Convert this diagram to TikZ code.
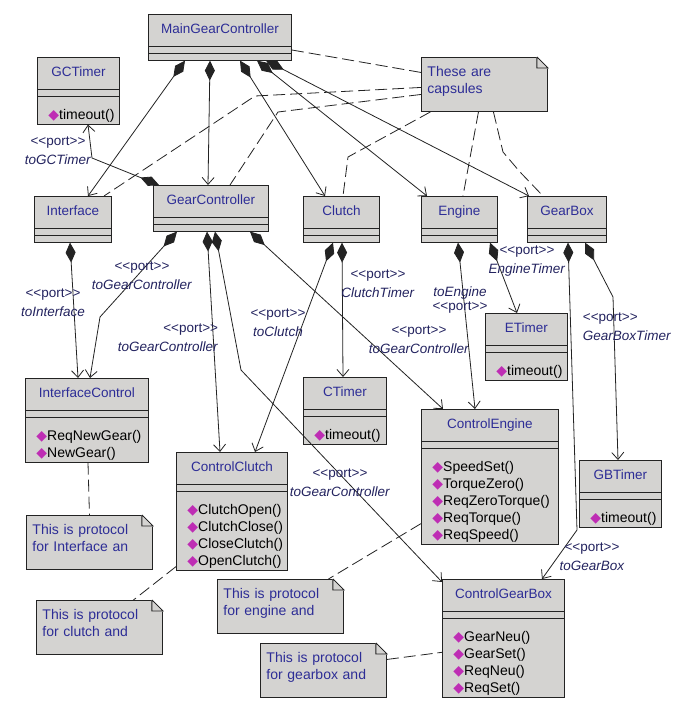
\documentclass[tikz,border=0pt]{standalone}
\usepackage{fontspec}
\setmainfont{Liberation Sans}
\newfontfamily\symfont{DejaVu Sans}
\usetikzlibrary{shapes.multipart,arrows.meta,calc}

\definecolor{boxgray}{RGB}{212,211,209}
\definecolor{textblue}{RGB}{45,45,150}
\definecolor{labelblue}{RGB}{35,35,95}
\definecolor{opcol}{RGB}{190,45,180}
\definecolor{linecol}{RGB}{35,35,35}

\newcommand{\hdr}[1]{\rule[-12pt]{0pt}{31pt}#1}
\newcommand{\meth}[1]{{\symfont\color{opcol}◆}#1}
\newcommand{\ops}[1]{\vbox{\kern11pt\hbox{\fontsize{14}{17}\selectfont
    \begin{tabular}{@{\hspace{7pt}}l@{}}#1\end{tabular}}\kern-1pt}}
\newcommand{\port}{<\kern0pt<port>\kern0pt>}

\begin{document}
\begin{tikzpicture}[x=1pt, y=-1pt,
    cls/.style={rectangle split, rectangle split parts=3, draw=linecol, line width=0.9pt,
        fill=boxgray, text=textblue, font=\fontsize{13.5}{17}\selectfont,
        inner xsep=4pt, inner ysep=0pt, anchor=north west,
        rectangle split part align={center,left,left},
        rectangle split empty part height=6pt, rectangle split empty part depth=0pt},
    note/.style={rectangle, draw=linecol, line width=0.9pt, fill=boxgray, text=textblue,
        font=\fontsize{14}{17}\selectfont, text width=114pt, inner xsep=6pt,
        minimum height=54pt, align=left, anchor=north west,
        execute at end node={\rule[-10pt]{0pt}{0pt}},
        append after command={
            ([xshift=-11pt]\tikzlastnode.north east)
            edge[draw=white, fill=white, line width=1pt, to path={-| (\tikztotarget) -- cycle}]
            ([yshift=-11pt]\tikzlastnode.north east)
            ([xshift=-11pt]\tikzlastnode.north east)
            edge[draw=linecol, line width=0.9pt, to path={-- (\tikztotarget) -| (\tikztostart)}]
            ([yshift=-11pt]\tikzlastnode.north east)}},
    port/.style={text=labelblue, font=\fontsize{13.5}{19}\selectfont, align=center, inner sep=0pt},
    comp/.style={{Diamond[length=20pt,width=10pt]}-{Straight Barb[length=7pt,width=12pt]}, draw=linecol, line width=0.8pt},
    dashln/.style={draw=linecol, line width=0.8pt, dash pattern=on 12pt off 5pt}
]
\path[use as bounding box, fill=white] (0,0) rectangle (673,710);

% Capsules
\node[cls, minimum width=143pt] (mgc) at (148,14) {\hdr{MainGearController}};
\node[cls, minimum width=82pt] (gctimer) at (37,57) {\hdr{GCTimer}\nodepart{three}\ops{\meth{timeout()}}};
\node[cls, minimum width=77pt] (iface) at (34,196) {\hdr{Interface}};
\node[cls, minimum width=115pt] (gc) at (153,185) {\hdr{GearController}};
\node[cls, minimum width=76pt] (clutch) at (303,196) {\hdr{Clutch}};
\node[cls, minimum width=76pt] (engine) at (421,196) {\hdr{Engine}};
\node[cls, minimum width=79pt] (gearbox) at (527,196) {\hdr{GearBox}};

% Protocols and timers
\node[cls, minimum width=123pt] (ifctrl) at (25,378) {\hdr{InterfaceControl}\nodepart{three}\ops{\meth{ReqNewGear()}\\\meth{NewGear()}}};
\node[cls, minimum width=83pt] (ctimer) at (303,377) {\hdr{CTimer}\nodepart{three}\ops{\meth{timeout()}}};
\node[cls, minimum width=82pt] (etimer) at (485,313) {\hdr{ETimer}\nodepart{three}\ops{\meth{timeout()}}};
\node[cls, minimum width=111pt] (ctrlclutch) at (176,452) {\hdr{ControlClutch}\nodepart{three}\ops{\meth{ClutchOpen()}\\\meth{ClutchClose()}\\\meth{CloseClutch()}\\\meth{OpenClutch()}}};
\node[cls, minimum width=137pt] (ctrlengine) at (421,409) {\hdr{ControlEngine}\nodepart{three}\ops{\meth{SpeedSet()}\\\meth{TorqueZero()}\\\meth{ReqZeroTorque()}\\\meth{ReqTorque()}\\\meth{ReqSpeed()}}};
\node[cls, minimum width=82pt] (gbtimer) at (579,460) {\hdr{GBTimer}\nodepart{three}\ops{\meth{timeout()}}};
\node[cls, minimum width=122pt] (ctrlgearbox) at (442,579) {\hdr{ControlGearBox}\nodepart{three}\ops{\meth{GearNeu()}\\\meth{GearSet()}\\\meth{ReqNeu()}\\\meth{ReqSet()}}};

% Notes
\node[note] (capsnote) at (421,57) {These are\\capsules};
\node[note] (ifnote) at (26,515) {This is protocol\\for Interface an};
\node[note] (clnote) at (36,600) {This is protocol\\for clutch and};
\node[note] (ennote) at (217,579) {This is protocol\\for engine and};
\node[note] (gbnote) at (260,643) {This is protocol\\for gearbox and};

% Bend points
\coordinate (gctbend) at (92,158);
\coordinate (ifcbend) at (100,317);
\coordinate (cgbbend) at (241,370);
\coordinate (gbtbend) at (613,297);
\coordinate (cgbbend2) at (577,530);
\coordinate (ifdash) at (255,96);
\coordinate (gcdash) at (278,112);
\coordinate (cldash) at (348,157);
\coordinate (gbdash) at (503,152);
\coordinate (gbdash2) at (520,172);

% Composition from MainGearController
\draw[comp] ([xshift=37pt]mgc.south west) -- ([xshift=54pt]iface.north west);
\draw[comp] ([xshift=62pt]mgc.south west) -- ([xshift=55pt]gc.north west);
\draw[comp] ([xshift=92pt]mgc.south west) -- ([xshift=22pt]clutch.north west);
\draw[comp] ([xshift=109pt]mgc.south west) -- ([xshift=6pt]engine.north west);
\draw[comp] ([xshift=118pt]mgc.south west) -- ([xshift=2pt]gearbox.north west);

% Ports
\draw[comp] ([xshift=6pt]gc.north west) -- (gctbend) -- ([xshift=51pt]gctimer.south west);
\node[port] (gctlabel) at (58,151) {\port\\\textit{toGCTimer}};

\draw[comp] ([xshift=36pt]iface.south west) -- ([xshift=53pt]ifctrl.north west);
\node[port] (iflabel) at (53,303) {\port\\\textit{toInterface}};

\draw[comp] ([xshift=24pt]gc.south west) -- (ifcbend) -- ([xshift=65pt]ifctrl.north west);
\node[port] (gciflabel) at (142,276) {\port\\\textit{toGearController}};

\draw[comp] ([xshift=54pt]gc.south west) -- ([xshift=44pt]ctrlclutch.north west);
\node[port, align=right] (gccclabel) at (168,338) {\port\\\textit{toGearController}};

\draw[comp] ([xshift=62pt]gc.south west) -- (cgbbend) -- ([yshift=-3pt]ctrlgearbox.north west);
\node[port] (gccglabel) at (340,483) {\port\\\textit{toGearController}};

\draw[comp] ([xshift=97pt]gc.south west) -- ([xshift=22pt]ctrlengine.north west);
\node[port] (gccelabel) at (419,340) {\port\\\textit{toGearController}};

\draw[comp] ([xshift=30pt]clutch.south west) -- ([xshift=79pt]ctrlclutch.north west);
\node[port] (clcclabel) at (278,323) {\port\\\textit{toClutch}};

\draw[comp] ([xshift=39pt]clutch.south west) -- ([xshift=40pt]ctimer.north west);
\node[port] (clctlabel) at (378,284) {\port\\\textit{ClutchTimer}};

\draw[comp] ([xshift=37pt]engine.south west) -- ([xshift=54pt]ctrlengine.north west);
\node[port, font=\fontsize{13.5}{14}\selectfont] (encelabel) at (460,300) {\textit{toEngine}\\\port};

\draw[comp] ([xshift=69pt]engine.south west) -- ([xshift=32pt]etimer.north west);
\node[port] (enetlabel) at (527,261) {\port\\\textit{EngineTimer}};

\draw[comp] ([xshift=58pt]gearbox.south west) -- (gbtbend) -- ([xshift=39pt]gbtimer.north west);
\node[port, align=left] (gbgtlabel) at (627,327) {\port\\\textit{GearBoxTimer}};

\draw[comp] ([xshift=41pt]gearbox.south west) -- (cgbbend2) -- ([xshift=100pt]ctrlgearbox.north west);
\node[port] (gbcglabel) at (592,557) {\port\\\textit{toGearBox}};

% Note links
\draw[dashln] ([yshift=12pt]capsnote.west) -- ([yshift=-36pt]mgc.north east);
\draw[dashln] ([yshift=-3pt]capsnote.west) -- (ifdash) -- ([xshift=70pt]iface.north west);
\draw[dashln] ([yshift=-10pt]capsnote.west) -- (gcdash) -- ([xshift=77pt]gc.north west);
\draw[dashln] ([xshift=-54pt]capsnote.south) -- (cldash) -- ([xshift=40pt]clutch.north west);
\draw[dashln] ([xshift=-6pt]capsnote.south) -- ([xshift=42pt]engine.north west);
\draw[dashln] ([xshift=9pt]capsnote.south) -- (gbdash) -- (gbdash2) -- ([xshift=16pt]gearbox.north west);
\draw[dashln] ([xshift=63pt]ifctrl.south west) -- (ifnote.north);
\draw[dashln] ([yshift=4pt]ctrlclutch.south west) -- ([xshift=34pt]clnote.north);
\draw[dashln] ([yshift=21pt]ctrlengine.south west) -- ([xshift=48pt]ennote.north);
\draw[dashln] ([yshift=11pt]gbnote.east) -- ([yshift=-14pt]ctrlgearbox.west);

\end{tikzpicture}
\end{document}
